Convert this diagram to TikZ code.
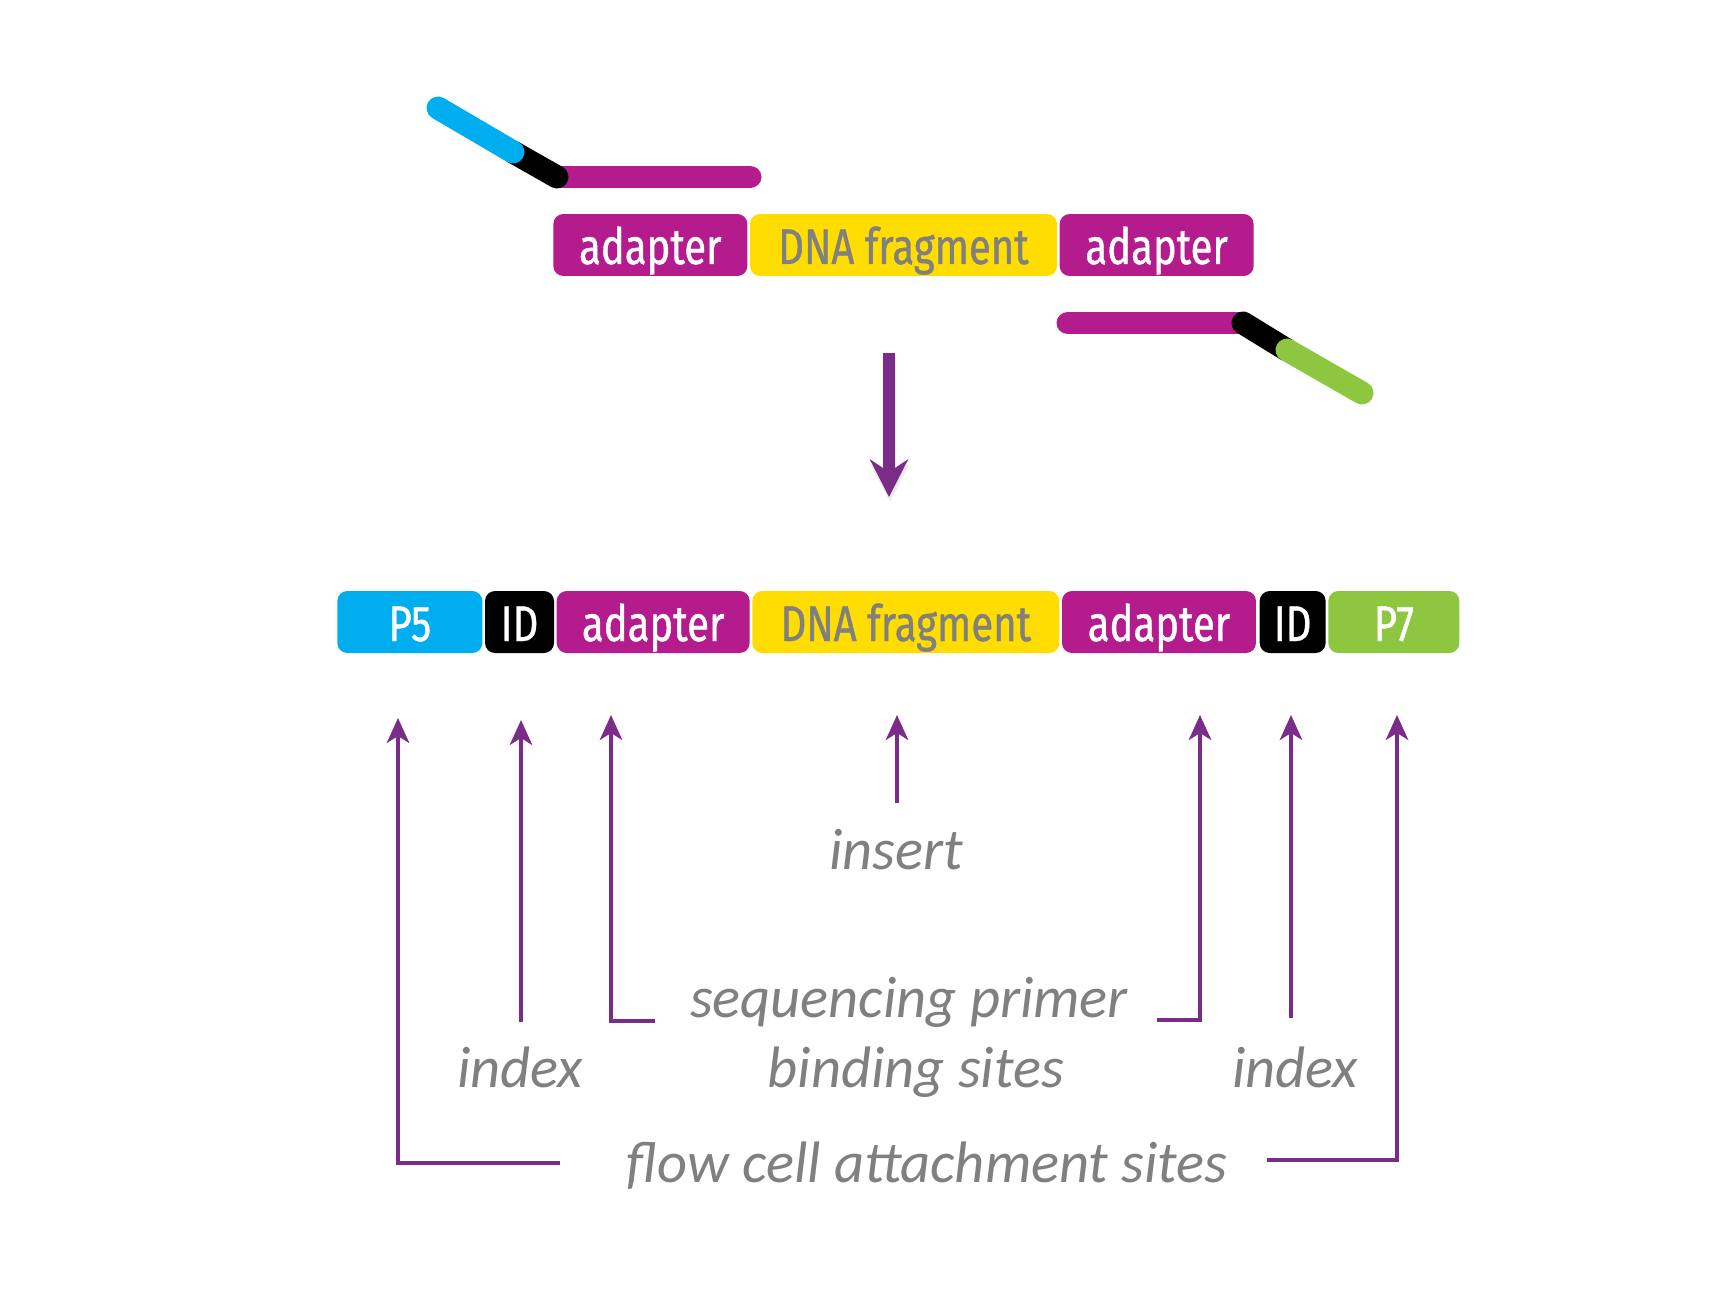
\documentclass[tikz,border=0pt]{standalone}
\usepackage{fontspec}
\usetikzlibrary{positioning,arrows.meta}
\newfontfamily\boxfont[FakeStretch=0.8,FakeBold=0.8]{Fira Sans}
\newfontfamily\labelfont{Carlito}
\definecolor{dnablue}{HTML}{00AEEF}
\definecolor{dnapink}{HTML}{B41B8D}
\definecolor{dnayellow}{HTML}{FFDD00}
\definecolor{dnagreen}{HTML}{8DC63F}
\definecolor{arrowpurple}{HTML}{7B2C89}
\definecolor{labelgray}{HTML}{808080}
\tikzset{
  seg/.style={rounded corners=0.2cm, minimum height=1.24cm, inner sep=0pt,
    text height=0.76cm, text depth=0pt, text=white,
    font=\boxfont\fontsize{28.5}{30}\selectfont},
  strand/.style={line width=0.46cm, line cap=round},
  pointer/.style={draw=arrowpurple, line width=0.066cm,
    -{Stealth[length=0.5cm,width=0.45cm,inset=0.14cm]}},
  bigarrow/.style={line width=0.24cm,
    -{Stealth[length=0.75cm,width=0.76cm,inset=0.25cm]}},
  lbl/.style={anchor=base, text=labelgray, inner sep=0pt,
    font=\labelfont\itshape\fontsize{33.3}{40}\selectfont},
}

\begin{document}
\begin{tikzpicture}[x=0.02cm,y=-0.02cm]
\fill[white] (0,0) rectangle (1730,1294);
\useasboundingbox (0,0) rectangle (1730,1294);

% adapters before ligation
\draw[strand, dnapink] (557,177) -- (750,177);
\draw[strand, black] (513,152) -- (557,177);
\draw[strand, dnablue] (438,108) -- (513,152);
\draw[strand, dnapink] (1068,323) -- (1243,323);
\draw[strand, black] (1243,323) -- (1287,350);
\draw[strand, dnagreen] (1287,350) -- (1362,393);

% top construct
\node[seg, fill=dnapink, minimum width=3.88cm, anchor=west] (adTL) at (553,245) {adapter};
\node[seg, fill=dnayellow, text=labelgray, minimum width=6.14cm, right=0.04cm of adTL] (fragT) {DNA fragment};
\node[seg, fill=dnapink, minimum width=3.88cm, right=0.04cm of fragT] (adTR) {adapter};

% ligation arrow
\coordinate (ligS) at (889,353);
\coordinate (ligE) at (889,497);
\draw[bigarrow, black!8] ([shift={(1,5)}]ligS) -- ([shift={(1,5)}]ligE);
\draw[bigarrow, arrowpurple] (ligS) -- (ligE);

% final library molecule
\node[seg, fill=dnablue, minimum width=2.9cm, anchor=west] (p5) at (337,622) {P5};
\node[seg, fill=black, minimum width=1.38cm, right=0.04cm of p5] (idL) {ID};
\node[seg, fill=dnapink, minimum width=3.86cm, right=0.04cm of idL] (adL) {adapter};
\node[seg, fill=dnayellow, text=labelgray, minimum width=6.14cm, right=0.04cm of adL] (frag) {DNA fragment};
\node[seg, fill=dnapink, minimum width=3.88cm, right=0.04cm of frag] (adR) {adapter};
\node[seg, fill=black, minimum width=1.32cm, right=0.06cm of adR] (idR) {ID};
\node[seg, fill=dnagreen, minimum width=2.62cm, right=0.04cm of idR] (p7) {P7};

% labels
\node[lbl] (insert) at (896,869) {insert};
\node[lbl] (primer) at (909,1017) {sequencing primer};
\node[lbl] (binding) at (916,1087) {binding sites};
\node[lbl] (idxL) at (520,1087) {index};
\node[lbl] (idxR) at (1295,1087) {index};
\node[lbl] (flow) at (927,1182) {flow cell attachment sites};

% arrow ends
\coordinate (p5tip) at (398,718);
\coordinate (idLtip) at (521,720);
\coordinate (adLtip) at (611,715);
\coordinate (fragtip) at (897,715);
\coordinate (adRtip) at (1200,715);
\coordinate (idRtip) at (1291,715);
\coordinate (p7tip) at (1397,715);
\coordinate (flowL) at (560,1163);
\coordinate (flowR) at (1267,1160);
\coordinate (primerL) at (655,1021);
\coordinate (primerR) at (1157,1020);
\coordinate (idLfoot) at (521,1022);
\coordinate (idRfoot) at (1291,1018);
\coordinate (insfoot) at (897,803);

\draw[pointer] (flowL) -| (p5tip);
\draw[pointer] (idLfoot) -- (idLtip);
\draw[pointer] (primerL) -| (adLtip);
\draw[pointer] (insfoot) -- (fragtip);
\draw[pointer] (primerR) -| (adRtip);
\draw[pointer] (idRfoot) -- (idRtip);
\draw[pointer] (flowR) -| (p7tip);
\end{tikzpicture}
\end{document}
